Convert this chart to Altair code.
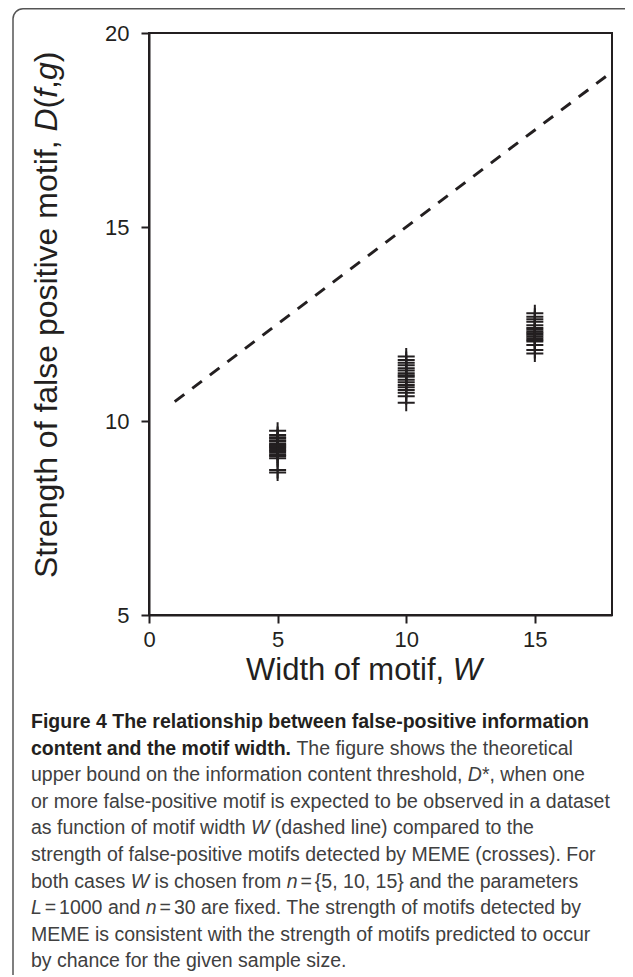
import altair as alt
import pandas as pd

# ---------------- data ----------------
X_TICKS = [0, 5, 10, 15]
Y_TICKS = [5, 10, 15, 20]

W5_STRENGTH = [9.75, 9.64, 9.58, 9.55, 9.50, 9.48, 9.42, 9.39, 9.36, 9.33,
               9.30, 9.26, 9.23, 9.18, 9.13, 9.10, 9.04, 8.74, 8.67]
W10_STRENGTH = [11.66, 11.57, 11.50, 11.44, 11.36, 11.30, 11.23, 11.18, 11.14,
                11.06, 11.00, 10.93, 10.87, 10.80, 10.73, 10.64, 10.47]
W15_STRENGTH = [12.78, 12.69, 12.62, 12.56, 12.47, 12.40, 12.35, 12.30, 12.26,
                12.22, 12.18, 12.13, 12.09, 12.05, 11.96, 11.83, 11.74]

BOUND_W = [1, 18]
BOUND_D = [10.5, 19.0]

Y_TITLE = [("Strength of false positive motif, ", "r"), ("D", "i"), ("(", "r"),
           ("f", "i"), (",", "r"), ("g", "i"), (")", "r")]
X_TITLE = [("Width of motif, ", "r"), ("W", "i")]

CAPTION = [
    [("Figure 4 The relationship between false-positive information", "b")],
    [("content and the motif width.", "b"), (" The figure shows the theoretical", "r")],
    [("upper bound on the information content threshold, ", "r"), ("D", "i"), ("*, when one", "r")],
    [("or more false-positive motif is expected to be observed in a dataset", "r")],
    [("as function of motif width ", "r"), ("W", "i"), (" (dashed line) compared to the", "r")],
    [("strength of false-positive motifs detected by MEME (crosses). For", "r")],
    [("both cases ", "r"), ("W", "i"), (" is chosen from ", "r"), ("n", "i"),
     ("\u2009=\u2009{5, 10, 15} and the parameters", "r")],
    [("L", "i"), ("\u2009=\u20091000 and ", "r"), ("n", "i"),
     ("\u2009=\u200930 are fixed. The strength of motifs detected by", "r")],
    [("MEME is consistent with the strength of motifs predicted to occur", "r")],
    [("by chance for the given sample size.", "r")],
]

# ---------------- font metrics (Arial / Liberation Sans, per 1000 em) ----------------
REG = {" ": 278, ",": 278, ".": 278, "-": 333, "(": 333, ")": 333, "*": 389, "=": 584,
       "{": 334, "}": 334, "\u2009": 150}
REG.update({d: 556 for d in "0123456789"})
REG.update(dict(zip("ABCDEFGHIJKLMNOPQRSTUVWXYZ",
                    [667, 667, 722, 722, 667, 611, 778, 722, 278, 500, 667, 556, 833,
                     722, 778, 667, 778, 722, 667, 611, 722, 667, 944, 667, 667, 611])))
REG.update(dict(zip("abcdefghijklmnopqrstuvwxyz",
                    [556, 556, 500, 556, 556, 278, 556, 556, 222, 222, 500, 222, 833,
                     556, 556, 556, 556, 333, 500, 278, 556, 500, 722, 500, 500, 500])))
BOLD = {" ": 278, ",": 278, ".": 278, "-": 333}
BOLD.update({d: 556 for d in "0123456789"})
BOLD.update(dict(zip("ABCDEFGHIJKLMNOPQRSTUVWXYZ",
                     [722, 722, 722, 722, 667, 611, 778, 722, 278, 556, 722, 611, 833,
                      722, 778, 667, 778, 722, 667, 611, 722, 667, 944, 667, 667, 611])))
BOLD.update(dict(zip("abcdefghijklmnopqrstuvwxyz",
                     [556, 611, 556, 611, 556, 333, 611, 611, 278, 278, 556, 278, 889,
                      611, 611, 611, 611, 389, 556, 333, 611, 556, 778, 556, 556, 500])))


def tw(s, size, style):
    tbl = BOLD if style == "b" else REG
    return sum(tbl.get(c, 556) for c in s) / 1000.0 * size


INK = "#231f20"
FONT = "Liberation Sans"

one = pd.DataFrame({"k": [0]})

# ---------------- plot ----------------
pts = pd.DataFrame({
    "W": [5] * len(W5_STRENGTH) + [10] * len(W10_STRENGTH) + [15] * len(W15_STRENGTH),
    "D": W5_STRENGTH + W10_STRENGTH + W15_STRENGTH,
})
bound = pd.DataFrame({"W": BOUND_W, "D": BOUND_D})

xs = alt.Scale(domain=[0, 18], nice=False, zero=False)
ys = alt.Scale(domain=[5, 20], nice=False, zero=False)

axis_common = dict(title=None, grid=False, domainColor=INK, domainWidth=2,
                   tickColor=INK, tickWidth=2, tickSize=8, labelFont=FONT,
                   labelFontSize=22, labelColor=INK, labelFlush=False,
                   labelOverlap=False)
xaxis = alt.Axis(values=X_TICKS, labelPadding=6, **axis_common)
yaxis = alt.Axis(values=Y_TICKS, labelPadding=12, **axis_common)

points = alt.Chart(pts).mark_point(
    shape="M-1,0H1M0,-1V1", size=289, filled=False, stroke=INK,
    strokeWidth=2, opacity=1
).encode(
    x=alt.X("W:Q", scale=xs, axis=xaxis),
    y=alt.Y("D:Q", scale=ys, axis=yaxis),
)

line = alt.Chart(bound).mark_line(
    color=INK, strokeWidth=3, strokeDash=[12, 10]
).encode(
    x=alt.X("W:Q", scale=xs, axis=xaxis),
    y=alt.Y("D:Q", scale=ys, axis=yaxis),
)

# outer frame of the figure panel (right/bottom edges run off the canvas)
frame = alt.Chart(one).mark_rect(
    fillOpacity=0, stroke="#555555", strokeWidth=1.5, cornerRadius=10
).encode(
    x=alt.value(-136), y=alt.value(-24.2), x2=alt.value(520), y2=alt.value(1000)
)

texts = []


def add_text(seg, x, y, style, size, color, angle=0):
    stripped = seg.lstrip(" ")
    lead = tw(seg[: len(seg) - len(stripped)], size, style)
    kw = dict(text=stripped, font=FONT, fontSize=size, align="left",
              baseline="alphabetic", color=color)
    if style == "b":
        kw["fontWeight"] = "bold"
    if style == "i":
        kw["fontStyle"] = "italic"
    if angle:
        kw["angle"] = angle
        enc = dict(x=alt.value(x), y=alt.value(y - lead))
    else:
        enc = dict(x=alt.value(x + lead), y=alt.value(y))
    texts.append(alt.Chart(one).mark_text(**kw).encode(**enc))


# y title (rotated, reading bottom to top)
YT_SIZE = 32
ty = 545
for seg, st in Y_TITLE:
    add_text(seg, -92, ty, st, YT_SIZE, INK, angle=270)
    ty -= tw(seg, YT_SIZE, st)

# x title
XT_SIZE = 31
tx = 97
for seg, st in X_TITLE:
    add_text(seg, tx, 647, st, XT_SIZE, INK)
    tx += tw(seg, XT_SIZE, st)

# caption
CAP_SIZE = 19.5
for i, segs in enumerate(CAPTION):
    cx = -118
    cy = 695 + i * 26.6
    for seg, st in segs:
        color = INK if st == "b" else "#404040"
        pieces = seg.split("\u2009")
        for j, piece in enumerate(pieces):
            if j > 0:
                cx += tw("\u2009", CAP_SIZE, st)
            if piece.strip():
                add_text(piece, cx, cy, st, CAP_SIZE, color)
            cx += tw(piece, CAP_SIZE, st)

chart = alt.layer(frame, line, points, *texts).properties(
    width=463,
    height=582,
    autosize=alt.AutoSizeParams(type="none"),
    padding={"left": 141, "top": 25, "right": 13, "bottom": 360},
).configure_view(stroke=INK, strokeWidth=2)

chart.save("out.html", embed_options={"renderer": "svg", "actions": False})
